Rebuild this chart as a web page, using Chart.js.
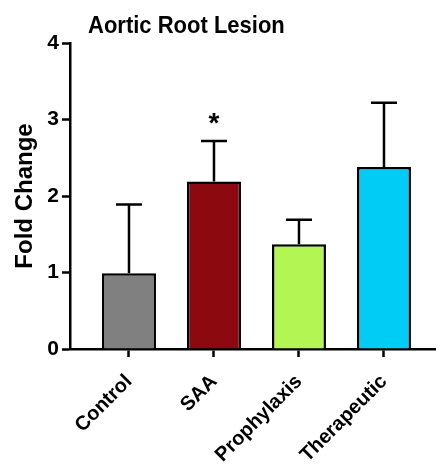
<!DOCTYPE html>
<html><head><meta charset="utf-8">
<script src="https://cdn.jsdelivr.net/npm/chart.js@4/dist/chart.umd.min.js"></script>
<style>html,body{margin:0;padding:0;background:#fff}#wrap{width:436px;height:467px;position:relative}</style>
</head><body><div id="wrap"><canvas id="c"></canvas></div>
<script>
const chartTitle = 'Aortic Root Lesion';
const yTitle = 'Fold Change';
const categories = ['Control', 'SAA', 'Prophylaxis', 'Therapeutic'];
const meanValues = [0.99, 2.19, 1.37, 2.38];
const semValues = [0.90, 0.53, 0.32, 0.84];
const significance = ['', '*', '', ''];
const barColors = ['#808080', '#8C0A0F', '#B3F552', '#00CCF5'];
const yTickValues = [0, 1, 2, 3, 4];

const FONT = "'Liberation Sans', Arial, Helvetica, sans-serif";

const extrasPlugin = {
  id: 'extras',
  afterDatasetsDraw(chart) {
    const ctx = chart.ctx;
    const xs = chart.scales.x, ys = chart.scales.y;
    ctx.save();
    ctx.strokeStyle = '#000';
    ctx.lineWidth = 2.5;
    categories.forEach((c, i) => {
      const x = xs.getPixelForValue(i);
      const yTop = ys.getPixelForValue(meanValues[i]);
      const yErr = ys.getPixelForValue(meanValues[i] + semValues[i]);
      ctx.beginPath();
      ctx.moveTo(x, yTop);
      ctx.lineTo(x, yErr);
      ctx.moveTo(x - 13, yErr);
      ctx.lineTo(x + 13, yErr);
      ctx.stroke();
      if (significance[i]) {
        ctx.fillStyle = '#000';
        ctx.font = 'bold 28px ' + FONT;
        ctx.textAlign = 'center';
        ctx.textBaseline = 'alphabetic';
        ctx.fillText(significance[i], x, yErr - 9);
      }
    });
    ctx.restore();
  },
  afterDraw(chart) {
    const ctx = chart.ctx;
    ctx.save();
    ctx.fillStyle = '#000';
    ctx.font = 'bold 22px ' + FONT;
    ctx.textAlign = 'left';
    ctx.textBaseline = 'alphabetic';
    ctx.translate(chart.chartArea.left + 18, 33);
    ctx.scale(1, 1.12);
    ctx.fillText(chartTitle, 0, 0);
    ctx.restore();
  }
};

new Chart(document.getElementById('c'), {
  type: 'bar',
  data: {
    datasets: [{
      data: categories.map((c, i) => ({ x: i, y: meanValues[i] })),
      backgroundColor: barColors,
      borderColor: '#000',
      borderWidth: 2.5,
      borderSkipped: 'bottom',
      categoryPercentage: 1.0,
      barPercentage: 0.635
    }]
  },
  options: {
    responsive: true,
    maintainAspectRatio: false,
    animation: false,
    layout: { padding: { top: 43, left: 0, right: 0, bottom: 0 } },
    plugins: { legend: { display: false }, tooltip: { enabled: false }, title: { display: false } },
    scales: {
      x: {
        type: 'linear',
        offset: false,
        min: -0.694,
        max: 3.612,
        z: 1,
        afterBuildTicks(scale) { scale.ticks = categories.map((c, i) => ({ value: i })); },
        afterFit(scale) { scale.height = 118; },
        border: { display: true, color: '#000', width: 2.5 },
        grid: { display: true, offset: false, drawOnChartArea: false, drawTicks: true, tickLength: 8, tickWidth: 2.5, tickColor: '#000' },
        ticks: {
          callback: (v) => categories[v] !== undefined ? categories[v] : '',
          maxRotation: 45, minRotation: 45, autoSkip: false,
          color: '#000', padding: 13,
          font: { family: FONT, size: 20, weight: 'bold' }
        }
      },
      y: {
        min: 0, max: 4,
        z: 1,
        afterBuildTicks(scale) { scale.ticks = yTickValues.map(v => ({ value: v })); },
        afterFit(scale) { scale.width = 70; },
        border: { display: true, color: '#000', width: 2.5 },
        grid: { display: true, drawOnChartArea: false, drawTicks: true, tickLength: 8, tickWidth: 2.5, tickColor: '#000' },
        ticks: { color: '#000', padding: 3, font: { family: FONT, size: 21, weight: 'bold' } },
        title: { display: true, text: yTitle, color: '#000', padding: { top: 11, bottom: 0 }, font: { family: FONT, size: 24, weight: 'bold' } }
      }
    }
  },
  plugins: [extrasPlugin]
});
</script></body></html>
